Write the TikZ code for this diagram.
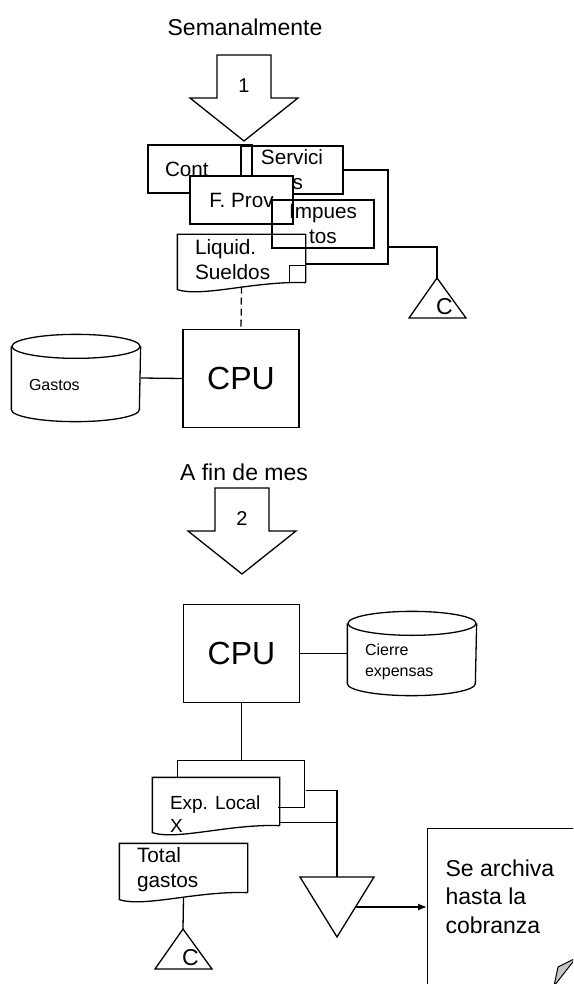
\documentclass[tikz,border=0pt]{standalone}
\usepackage{fontspec}
\setmainfont{Liberation Sans}
\usetikzlibrary{arrows.meta,calc,positioning}

\begin{document}
\begin{tikzpicture}[x=1pt,y=-1pt,line width=1.3pt,
  box/.style={draw,rectangle,inner sep=0pt,align=center,font=\fontsize{20.7}{25}\selectfont},
  blank/.style={rectangle,inner sep=0pt},
  txt/.style={inner sep=0pt,align=left,font=\fontsize{20.8}{25}\selectfont},
  small/.style={inner sep=0pt,align=left,font=\fontsize{16}{21}\selectfont},
  head/.style={font=\fontsize{23}{27}\selectfont},
  cpu/.style={draw,rectangle,minimum width=116pt,minimum height=98pt,font=\fontsize{32}{36}\selectfont}]
  \useasboundingbox (0,0) rectangle (573,984);
  \clip (0,0) rectangle (573,984);

  % step 1: semanalmente
  \node[head] (sem) at (245,27) {Semanalmente};
  \node[head] (fin) at (244,472) {A fin de mes};
  \coordinate (a1) at (244,55);
  \coordinate (a2) at (242,488);
  \foreach \a/\t in {a1/1,a2/2}{
    \draw (\a) ++(-27,0) -- ++(54,0) -- ++(0,43) -- ++(27,0) -- ++(-54,43) -- ++(-54,-43) -- ++(27,0) -- cycle;
    \node[font=\fontsize{20}{24}\selectfont] (n\t) at ($(\a)+(0,31)$) {\t};
  }

  \node[box,minimum width=104pt,minimum height=48pt,text width=70pt,align=left] (cont) at (200,169) {Cont};
  \node[box,minimum width=102pt,minimum height=48pt] (ser) at (292,170) {Servici\\os};
  \node[box,fill=white,minimum width=103pt,minimum height=48pt] (prov) at (241.5,200) {F. Prov};
  \node[box,minimum width=102pt,minimum height=48pt] (imp) at (323,224) {Impues\\tos};

  % documentos
  \node[blank,minimum width=127pt,minimum height=47pt] (liq) at (241.5,258.5) {};
  \node[blank,minimum width=126pt,minimum height=47pt] (exp) at (216,801.5) {};
  \node[blank,minimum width=127pt,minimum height=48pt] (tot) at (183.5,868) {};
  \foreach \d in {liq,exp,tot}
    \draw (\d.south east) -- (\d.north east) -- (\d.north west) -- ($(\d.south west)+(0,7)$)
      .. controls +(25,8) and +(-50,-2) .. (\d.south east);
  \node[txt,anchor=west] (liqt) at ($(liq.west)+(17,1.5)$) {Liquid.\\Sueldos};
  \node[txt,anchor=west,font=\fontsize{19}{23}\selectfont] (expt) at ($(exp.west)+(17,13)$) {Exp. Local\\X};
  \node[txt,anchor=west] (tott) at ($(tot.west)+(17,1.5)$) {Total\\gastos};
  \draw (liq.south east) rectangle +(-16,-17);
  \coordinate (expb) at ($(exp.north west)+(25,-17)$);
  \draw (exp.north west -| expb) -- (expb) -- ++(127,0) -- ++(0,47) -- ++(-26,0);

  % cilindros
  \node[blank,minimum width=128pt,minimum height=86pt] (gas) at (76,378) {};
  \node[blank,minimum width=128pt,minimum height=83pt] (cie) at (412,653.5) {};
  \foreach \c in {gas,cie}{
    \draw ($(\c.north west)+(0,12)$) -- ($(\c.south west)+(0,-12)$)
      arc[start angle=180,end angle=360,x radius=64pt,y radius=12pt] -- ($(\c.north east)+(0,12)$);
    \draw ($(\c.north)+(0,12)$) ellipse [x radius=64pt,y radius=12pt];
  }
  \node[small,anchor=west] (gast) at ($(gas.west)+(17,7)$) {Gastos};
  \node[small,anchor=west] (ciet) at ($(cie.west)+(17,8)$) {Cierre\\expensas};

  \node[cpu] (cpu1) at (241,378.5) {CPU};
  \node[cpu] (cpu2) at (241.5,653.5) {CPU};

  % conexiones
  \coordinate (j1) at (388,264);
  \coordinate (j2) at (388,247);
  \coordinate (c1) at (437,278);
  \coordinate (c2) at (183,929);
  \draw (ser.east) -| (j1) -- (j1 -| liq.east);
  \draw (j2) -| (c1);
  \draw[dashed,dash pattern=on 7pt off 4pt] ($(liq.south)+(0,4)$) -- (cpu1.north);
  \draw (gas.east) -- (cpu1.west);
  \draw (cpu2.east) -- (cie.west);
  \draw (cpu2.south) -- (cpu2.south |- expb);
  \draw ($(tot.south)+(0,5)$) -- (c2);
  \foreach \c in {c1,c2}{
    \draw (\c) -- ++(29,40) -- ++(-57,0) -- cycle;
    \node[head] (\c t) at ($(\c)+(7.5,29)$) {C};
  }

  % archivo
  \coordinate (arch) at (337,877);
  \draw (arch) ++(-37,0) -- ++(74,0) -- ++(-37,60) -- cycle;
  \draw ($(exp.north east)+(26,13)$) -| (arch);
  \draw ($(exp.south east)+(0,-3)$) -| (arch);
  \node[draw,rectangle,anchor=north west,minimum width=200pt,minimum height=220pt] (sea) at (427,828) {};
  \node[inner sep=0pt,align=left,anchor=west,font=\fontsize{23}{28.5}\selectfont] (seat) at ($(sea.north west)+(18,68.5)$) {Se archiva\\hasta la\\cobranza};
  \coordinate (archr) at ($(arch)+(18.5,30)$);
  \draw[-{Latex[length=9pt,width=7pt]}] (archr) -- (archr -| sea.west);
  \draw[fill=gray!45,line width=1pt] (554,986) -- (558,967) -- (576,958) -- cycle;
\end{tikzpicture}
\end{document}
